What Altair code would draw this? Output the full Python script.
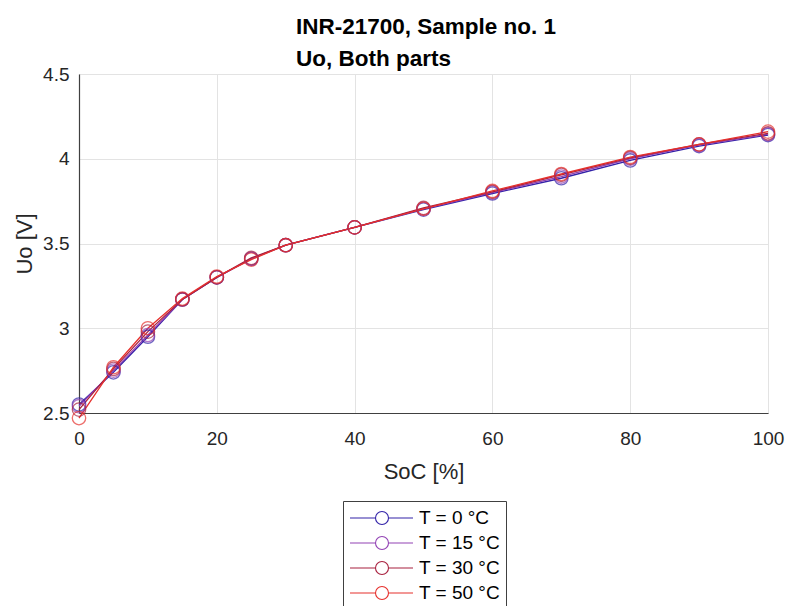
import altair as alt
import pandas as pd

soc = [0, 5, 10, 15, 20, 25, 30, 40, 50, 60, 70, 80, 90, 100]
u_0 = [2.55, 2.74, 2.95, 3.17, 3.30, 3.41, 3.49, 3.595, 3.70, 3.795, 3.885, 3.99, 4.075, 4.14]
u_15 = [2.54, 2.75, 2.96, 3.17, 3.30, 3.41, 3.49, 3.595, 3.705, 3.80, 3.895, 4.00, 4.08, 4.145]
u_30 = [2.52, 2.76, 2.98, 3.17, 3.30, 3.415, 3.49, 3.595, 3.71, 3.805, 3.905, 4.005, 4.085, 4.15]
u_50 = [2.47, 2.77, 3.00, 3.175, 3.305, 3.405, 3.49, 3.595, 3.705, 3.81, 3.91, 4.01, 4.085, 4.16]
series_names = ["T = 0 °C", "T = 15 °C", "T = 30 °C", "T = 50 °C"]
series_colors = ["#3222a8", "#9242b4", "#a8203e", "#e6302c"]

rows = []
for name, vals in zip(series_names, [u_0, u_15, u_30, u_50]):
    for s, v in zip(soc, vals):
        rows.append({"SoC": s, "U": v, "T": name})
df = pd.DataFrame(rows)

x = alt.X("SoC:Q", title="SoC [%]",
          scale=alt.Scale(domain=[0, 100], nice=False),
          axis=alt.Axis(values=[0, 20, 40, 60, 80, 100], labelFlush=False))
y = alt.Y("U:Q", title="Uo [V]",
          scale=alt.Scale(domain=[2.5, 4.5], nice=False, zero=False),
          axis=alt.Axis(values=[2.5, 3, 3.5, 4, 4.5], format="~g", labelFlush=False))

sym = "M-1,0H1.55M2.85,0H5.3M2.85,0A0.65,0.65,0,1,1,1.55,0A0.65,0.65,0,1,1,2.85,0Z"

color = alt.Color("T:N", sort=series_names,
                  scale=alt.Scale(domain=series_names, range=series_colors),
                  legend=alt.Legend(title=None, orient="none", legendX=264, legendY=427,
                                    symbolType=sym, symbolSize=400, symbolStrokeWidth=1.1,
                                    symbolFillColor="transparent",
                                    labelFontSize=19, labelFont="Liberation Sans",
                                    labelColor="#000", labelOffset=48, rowPadding=4,
                                    strokeColor="#404040", padding=6, fillColor="white"))

lines = alt.Chart(df).mark_line(strokeWidth=1.3).encode(x=x, y=y, color=color)
points = alt.Chart(df).mark_point(shape="circle", filled=False, size=180, strokeWidth=1.3).encode(
    x=x, y=y, stroke=alt.Stroke("T:N", sort=series_names,
                                scale=alt.Scale(domain=series_names, range=series_colors),
                                legend=None))

chart = alt.layer(lines, points).properties(
    width=689, height=339,
    title=alt.Title(["INR-21700, Sample no. 1", "Uo, Both parts"],
                    font="Liberation Sans", fontSize=22.5, fontWeight="bold",
                    color="#000", lineHeight=32, anchor="start", align="left",
                    frame="group", dx=217, offset=-5),
    autosize=alt.AutoSizeParams(type="none"),
    padding={"left": 79, "top": 74, "right": 21, "bottom": 193},
).configure_view(stroke="#e3e3e3", strokeWidth=1).configure_axis(
    labelFont="Liberation Sans", labelFontSize=19, labelColor="#262626",
    titleFont="Liberation Sans", titleFontSize=22, titleColor="#262626", titleFontWeight="normal",
    gridColor="#e3e3e3", domainColor="#404040", domainWidth=1.2, ticks=False,
).configure_axisX(labelPadding=16, titlePadding=13).configure_axisY(labelPadding=10, titlePadding=6)

chart.save("out.html", embed_options={"renderer": "svg", "actions": False})
